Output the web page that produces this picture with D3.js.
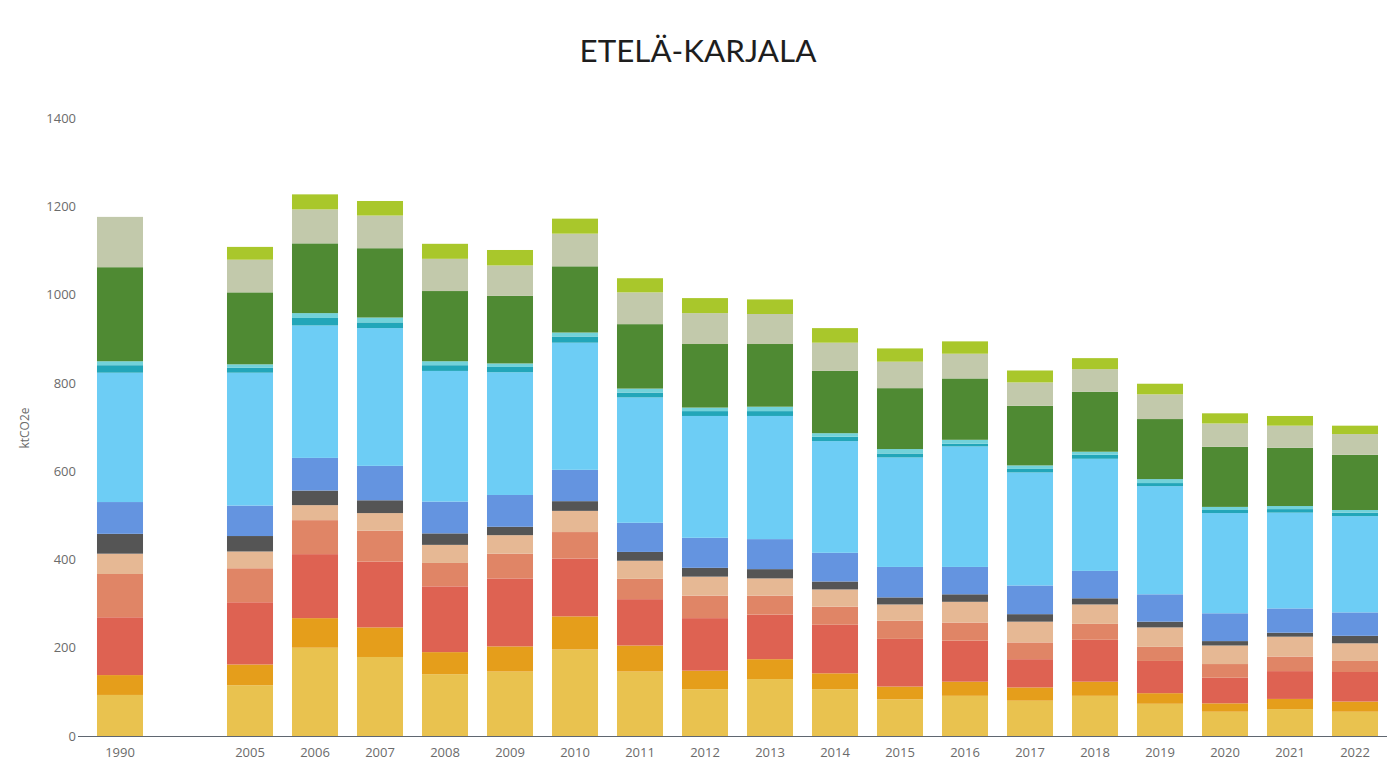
<!DOCTYPE html>
<html>
<head>
<meta charset="utf-8">
<script src="https://cdn.jsdelivr.net/npm/d3@7"></script>
<style>
  html, body { margin: 0; padding: 0; background: #ffffff; }
  svg { display: block; }
</style>
</head>
<body>
<svg id="chart" width="1391" height="763"></svg>
<script>
// ---- Data (ktCO2e per emission category) ----
const categories = ["1990", "_gap", "2005", "2006", "2007", "2008", "2009", "2010", "2011",
  "2012", "2013", "2014", "2015", "2016", "2017", "2018", "2019", "2020", "2021", "2022"];

const seriesKeys = ["s01", "s02", "s03", "s04", "s05", "s06", "s07", "s08", "s09", "s10", "s11", "s12", "s13"];
const seriesColors = ["#e9c24f", "#e59e1b", "#de6252", "#e08566", "#e6b894", "#555555",
  "#6494e0", "#6dcdf5", "#22a6b9", "#72d2da", "#4f8a33", "#c2c9ab", "#a9c72b"];

// values per year, bottom segment first (same order as seriesKeys)
const v1990 = [93, 45, 131, 98, 46, 45, 72, 293, 17, 9, 213, 114, 0];
const v2005 = [115, 47, 141, 77, 38, 35, 69, 301, 11, 8, 163, 74, 29];
const v2006 = [200, 67, 145, 77, 34, 33, 74, 300, 17, 11, 158, 77, 34];
const v2007 = [179, 67, 149, 70, 40, 29, 78, 312, 13, 11, 157, 74, 33];
const v2008 = [140, 50, 149, 53, 41, 26, 72, 296, 13, 9, 159, 73, 34];
const v2009 = [146, 57, 154, 56, 42, 19, 72, 278, 12, 8, 153, 69, 35];
const v2010 = [196, 75, 131, 60, 48, 22, 71, 288, 14, 9, 150, 74, 34];
const v2011 = [146, 59, 105, 46, 41, 20, 66, 284, 11, 9, 146, 72, 32];
const v2012 = [106, 42, 119, 51, 43, 20, 68, 276, 11, 8, 144, 70, 34];
const v2013 = [129, 45, 101, 43, 39, 21, 68, 279, 11, 10, 142, 68, 33];
const v2014 = [106, 36, 110, 41, 39, 18, 65, 253, 10, 8, 141, 64, 33];
const v2015 = [83, 29, 108, 41, 37, 16, 69, 248, 9, 10, 138, 60, 30];
const v2016 = [91, 32, 93, 41, 47, 17, 62, 273, 6, 9, 139, 56, 28];
const v2017 = [80, 30, 64, 38, 47, 17, 65, 256, 8, 8, 135, 53, 27];
const v2018 = [91, 32, 95, 36, 44, 14, 62, 254, 9, 7, 136, 51, 25];
const v2019 = [73, 24, 73, 32, 44, 13, 62, 245, 7, 9, 136, 56, 24];
const v2020 = [55, 19, 58, 31, 42, 10, 63, 227, 7, 7, 136, 53, 23];
const v2021 = [61, 23, 63, 33, 45, 9, 55, 217, 8, 7, 132, 50, 22];
const v2022 = [55, 23, 67, 25, 40, 17, 53, 218, 8, 6, 125, 47, 19];

const yTicks = [0, 200, 400, 600, 800, 1000, 1200, 1400];
const titleText = "ETELÄ-KARJALA";
const yLabelText = "ktCO2e";

// ---- Build table ----
const yearValues = {
  "1990": v1990, "2005": v2005, "2006": v2006, "2007": v2007, "2008": v2008, "2009": v2009,
  "2010": v2010, "2011": v2011, "2012": v2012, "2013": v2013, "2014": v2014, "2015": v2015,
  "2016": v2016, "2017": v2017, "2018": v2018, "2019": v2019, "2020": v2020, "2021": v2021,
  "2022": v2022
};
const table = categories.filter(c => yearValues[c]).map(c => {
  const row = { year: c };
  seriesKeys.forEach((k, i) => row[k] = yearValues[c][i]);
  return row;
});

// ---- Layout ----
const svg = d3.select("#chart");
const plotTop = 118, plotBottom = 736;

const x = d3.scaleBand()
  .domain(categories)
  .range([87.5, 1387.5])
  .paddingInner(0.292)
  .paddingOuter(0.146);

const y = d3.scaleLinear()
  .domain([0, 1400])
  .range([plotBottom, plotTop]);

const color = d3.scaleOrdinal().domain(seriesKeys).range(seriesColors);

const stack = d3.stack().keys(seriesKeys);
const layers = stack(table);

svg.append("g")
  .selectAll("g")
  .data(layers)
  .join("g")
  .attr("fill", d => color(d.key))
  .selectAll("rect")
  .data(d => d)
  .join("rect")
  .attr("x", d => x(d.data.year))
  .attr("width", x.bandwidth())
  .attr("y", d => y(d[1]))
  .attr("height", d => Math.max(0, y(d[0]) - y(d[1])));

// ---- Axes ----
const xAxis = d3.axisBottom(x)
  .tickValues(categories.filter(c => yearValues[c]))
  .tickSize(0)
  .tickPadding(12);
const gx = svg.append("g")
  .attr("transform", `translate(0,${plotBottom})`)
  .call(xAxis);
gx.select(".domain").remove();
gx.selectAll("text")
  .attr("font-family", "'Open Sans', sans-serif")
  .attr("font-size", 13)
  .attr("fill", "#6b6b6b");

svg.append("line")
  .attr("x1", 78).attr("x2", 1387)
  .attr("y1", plotBottom + 0.5).attr("y2", plotBottom + 0.5)
  .attr("stroke", "#5f6670")
  .attr("stroke-width", 1);

const yAxis = d3.axisLeft(y)
  .tickValues(yTicks)
  .tickFormat(d3.format("d"))
  .tickSize(0)
  .tickPadding(0);
const gy = svg.append("g")
  .attr("transform", "translate(76,0)")
  .call(yAxis);
gy.select(".domain").remove();
gy.selectAll("text")
  .attr("font-family", "'Open Sans', sans-serif")
  .attr("font-size", 13)
  .attr("fill", "#6b6b6b");

svg.append("text")
  .attr("transform", "translate(29,428) rotate(-90)")
  .attr("text-anchor", "middle")
  .attr("font-family", "'Open Sans', sans-serif")
  .attr("font-size", 12)
  .attr("fill", "#6b6b6b")
  .text(yLabelText);

// ---- Title ----
const title = svg.append("text")
  .attr("x", 698)
  .attr("y", 62)
  .attr("text-anchor", "middle")
  .attr("font-family", "Lato, 'Open Sans', sans-serif")
  .attr("font-size", 30)
  .attr("fill", "#1e1e1e")
  .text(titleText);
const w = title.node().getComputedTextLength();
if (w > 0) title.attr("font-size", 30 * 237 / w);
</script>
</body>
</html>
